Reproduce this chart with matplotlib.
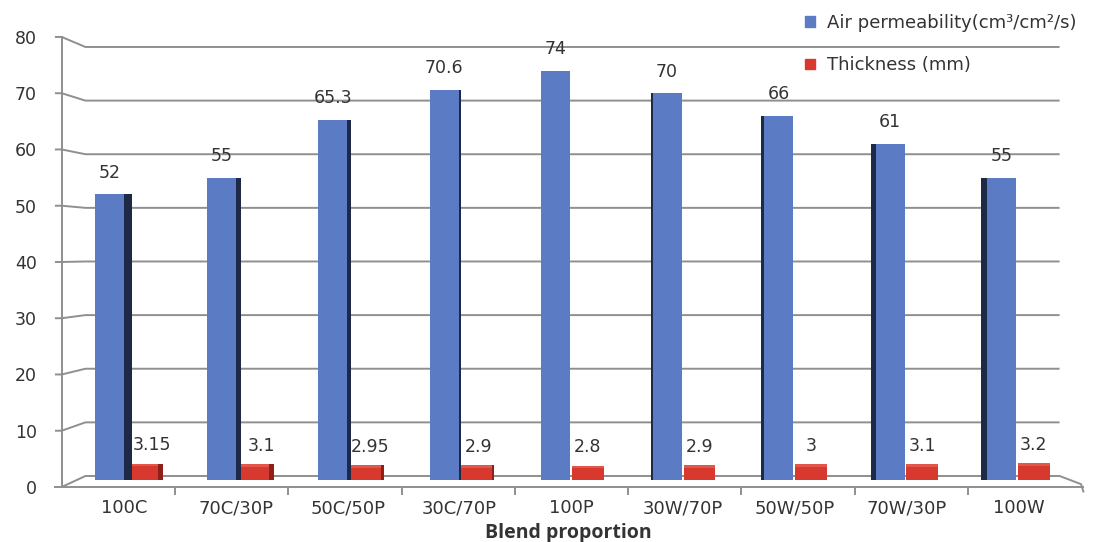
import numpy as np
import matplotlib.pyplot as plt
from matplotlib.patches import Patch

blends = ['100C', '70C/30P', '50C/50P', '30C/70P', '100P',
          '30W/70P', '50W/50P', '70W/30P', '100W']
air_perm = [52, 55, 65.3, 70.6, 74, 70, 66, 61, 55]
thickness = [3.15, 3.1, 2.95, 2.9, 2.8, 2.9, 3, 3.1, 3.2]
yticks = [0, 10, 20, 30, 40, 50, 60, 70, 80]

BLUE = '#5b7cc4'
BLUE_SIDE = '#1e2a45'
RED = '#d8392f'
RED_TOP = '#e2574c'
RED_SIDE = '#8e1f19'
GRID = '#8f8f8f'
TXT = '#333333'

fig = plt.figure(figsize=(11.04, 5.42), dpi=100)
ax = fig.add_axes([0.0559, 0.1015, 0.9251, 0.8303])
ax.set_xlim(-0.5, 8.517)
ax.set_ylim(0, 80)

n = len(blends)
idx = np.arange(n)
base = 1.2  # bars stand a bit back on the floor


def back(v):
    # back wall is a little smaller than the front scale (fake 3d)
    return 1.956 + 0.9533 * v


# back wall grid + slanted connectors to the front axis
for v in yticks[1:]:
    ax.plot([-0.56, -0.5, -0.291, 8.31], [v, v, back(v), back(v)],
            color=GRID, lw=1.4, clip_on=False, zorder=1, solid_capstyle='butt')
# floor
ax.plot([-0.56, -0.5, -0.291, 8.31, 8.5, 8.52], [0, 0, back(0), back(0), 0.5, -0.8],
        color=GRID, lw=1.4, clip_on=False, zorder=1)

for s in ['top', 'right']:
    ax.spines[s].set_visible(False)
ax.spines['left'].set_color(GRID)
ax.spines['bottom'].set_color(GRID)
ax.spines['left'].set_linewidth(1.4)
ax.spines['bottom'].set_linewidth(1.4)

ax.set_yticks(yticks)
ax.set_yticklabels([str(t) for t in yticks])
ax.tick_params(axis='y', length=0, pad=18, labelsize=12.5, labelcolor=TXT)

ax.set_xticks(idx[:-1] + 0.5)
ax.set_xticklabels([])
ax.tick_params(axis='x', which='major', length=6, width=1.4, color=GRID, direction='out')
ax.set_xticks(4 + 0.987 * (idx - 4), minor=True)
ax.set_xticklabels(blends, minor=True)
ax.tick_params(axis='x', which='minor', length=0, pad=9, labelsize=13, labelcolor=TXT)

# bar positions drift towards the middle (perspective)
xb = idx * 0.984 - 0.075
xr = xb + 0.285
wb, wr = 0.256, 0.28
air = np.array(air_perm)
thk = np.array(thickness)

ax.bar(xb, air - base, bottom=base, width=wb, color=BLUE, zorder=4)
ax.bar(xr, thk + 0.5 - base, bottom=base, width=wr, color=RED, zorder=3)
ax.bar(xr, [0.5] * n, bottom=thk + 0.5, width=wr, color=RED_TOP, zorder=3)

# side faces
for i in range(n):
    d = 4 - i
    if d > 0:
        sb, sr = d * 0.016, d * 0.012
        ax.bar(xb[i] + wb / 2 + sb / 2, air[i] - base, bottom=base, width=sb,
               color=BLUE_SIDE, zorder=4)
        ax.bar(xr[i] + wr / 2 + sr / 2, thk[i] + 1.0 - base, bottom=base, width=sr,
               color=RED_SIDE, zorder=3)
    elif d < 0:
        sb = -d * 0.014
        ax.bar(xb[i] - wb / 2 - sb / 2, air[i] - base, bottom=base, width=sb,
               color=BLUE_SIDE, zorder=4)

# value labels
for i in range(n):
    ax.annotate(f'{air[i]:g}', (xb[i], air[i]), xytext=(0, 12),
                textcoords='offset points', ha='center', va='baseline',
                fontsize=12.5, color=TXT, zorder=5)
    ax.annotate(f'{thk[i]:g}', (xr[i] + max(0, 4 - i) * 0.022, thk[i] + 1.0),
                xytext=(0, 9.5), textcoords='offset points', ha='center',
                va='baseline', fontsize=12.5, color=TXT, zorder=2)

handles = [Patch(color=BLUE, label='Air permeability(cm³/cm²/s)'),
           Patch(color=RED, label='Thickness (mm)')]
fig.legend(handles=handles, loc='upper left', bbox_to_anchor=(805 / 1104, 1 - 14 / 542),
           frameon=False, handlelength=0.55, handleheight=0.55, handletextpad=0.65,
           labelspacing=1.35, borderpad=0, borderaxespad=0,
           prop={'family': 'DejaVu Sans', 'size': 13}, labelcolor=TXT)

fig.text(568 / 1104, 1 - 523 / 542, 'Blend proportion', ha='center', va='top',
         family='Open Sans', fontweight='bold', fontsize=14, color=TXT)

fig.savefig('out.png', dpi=100)
